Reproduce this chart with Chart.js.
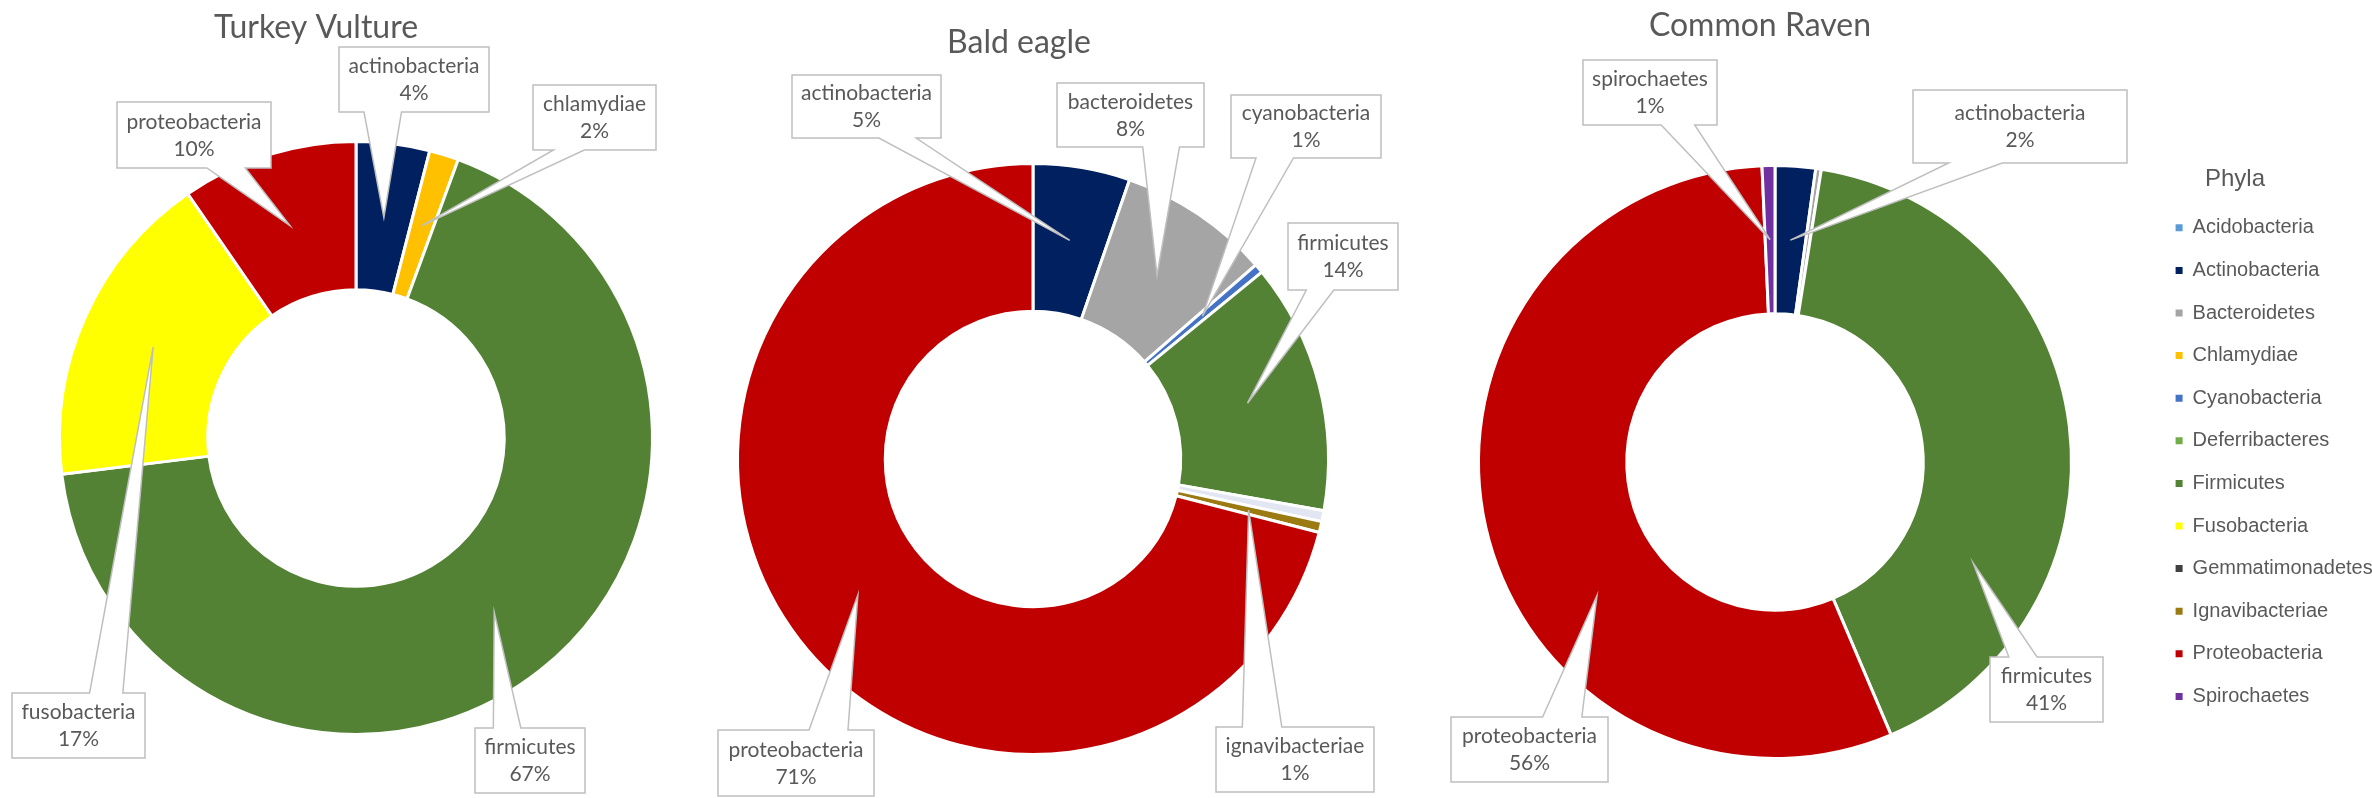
<!DOCTYPE html>
<html>
<head>
<meta charset="utf-8">
<script src="https://cdn.jsdelivr.net/npm/chart.js@4.4.1/dist/chart.umd.min.js"></script>
<style>
html,body{margin:0;padding:0;background:#ffffff;overflow:hidden;}
#wrap{position:relative;width:2372px;height:798px;overflow:hidden;background:#fff;}
#wrap canvas{position:absolute;}
</style>
</head>
<body>
<div id="wrap">
  <canvas id="c1" width="2372" height="798" style="left:0;top:0"></canvas>
  <canvas id="c2" width="2372" height="798" style="left:0;top:0"></canvas>
  <canvas id="c3" width="2372" height="798" style="left:0;top:0"></canvas>
  <canvas id="leg" width="480" height="640" style="left:2153px;top:149px"></canvas>
</div>
<script>
// ---------------- data ----------------
const phyla = ['Acidobacteria','Actinobacteria','Bacteroidetes','Chlamydiae','Cyanobacteria','Deferribacteres',
               'Firmicutes','Fusobacteria','Gemmatimonadetes','Ignavibacteriae','Proteobacteria','Spirochaetes'];
const phylaColors = ['#5B9BD5','#002060','#A5A5A5','#FFC000','#4472C4','#70AD47',
                     '#548235','#FFFF00','#404040','#9C7A12','#C00000','#7030A0'];
const legendTitle = 'Phyla';

const vultureTitle = 'Turkey Vulture';
const vultureLabels = ['Actinobacteria','Chlamydiae','Firmicutes','Fusobacteria','Proteobacteria'];
const vultureValues = [4.0, 1.6, 67.45, 17.35, 9.6];

const eagleTitle = 'Bald eagle';
const eagleLabels = ['Actinobacteria','Bacteroidetes','Cyanobacteria','Firmicutes','Acidobacteria','Ignavibacteriae','Proteobacteria'];
const eagleValues = [5.3, 8.3, 0.5, 13.7, 0.6, 0.6, 71.0];

const ravenTitle = 'Common Raven';
const ravenLabels = ['Actinobacteria','Bacteroidetes','Firmicutes','Proteobacteria','Spirochaetes'];
const ravenValues = [2.2, 0.3, 41.1, 55.7, 0.7];

// ---------------- layout / style ----------------
const W = 2372, H = 798;
const TEXT = '#595959';
const geom = {
  vulture: {cx: 356, cy: 438, R: 295, titleCx: 316, titleMid: 28},
  eagle:   {cx: 1033, cy: 459, R: 294, titleCx: 1019, titleMid: 43},
  raven:   {cx: 1775, cy: 462, R: 295, titleCx: 1760, titleMid: 26}
};
// slice colour overrides (pale sliver in the eagle chart)
const colorOverride = { eagle: { Acidobacteria: '#E2E5F2' } };
// callout boxes (annotation placement), tip = fraction along the slice angle
const calloutBoxes = {
  vulture: {
    Actinobacteria: {x: 339, y: 47,  w: 150, h: 65},
    Chlamydiae:     {x: 533, y: 85,  w: 123, h: 65},
    Firmicutes:     {x: 475, y: 728, w: 110, h: 65},
    Fusobacteria:   {x: 12,  y: 693, w: 133, h: 65},
    Proteobacteria: {x: 117, y: 102, w: 154, h: 66}
  },
  eagle: {
    Actinobacteria:  {x: 792,  y: 75,  w: 149, h: 63},
    Bacteroidetes:   {x: 1057, y: 83,  w: 147, h: 64},
    Cyanobacteria:   {x: 1231, y: 95,  w: 150, h: 63},
    Firmicutes:      {x: 1288, y: 223, w: 110, h: 67},
    Ignavibacteriae: {x: 1216, y: 727, w: 158, h: 65},
    Proteobacteria:  {x: 718,  y: 730, w: 156, h: 66}
  },
  raven: {
    Actinobacteria: {x: 1913, y: 90,  w: 214, h: 73},
    Firmicutes:     {x: 1990, y: 657, w: 113, h: 65, tip: 0.73},
    Proteobacteria: {x: 1451, y: 717, w: 157, h: 65, tip: 0.38},
    Spirochaetes:   {x: 1583, y: 60,  w: 134, h: 65}
  }
};
const TITLE_FONT = {family: 'Lato', size: 32, weight: 'normal', lineHeight: 1.2};
const LABEL_FONT = '21px Lato';
const LEGEND_FONT = {family: 'Liberation Sans', size: 20};
const LEGEND_PAD = 22.6;
const LEGEND_HEAD = {font: '24px "Liberation Sans"', dx: 82, y: 30};

function colorOf(name, key) {
  const o = colorOverride[key];
  if (o && o[name]) return o[name];
  return phylaColors[phyla.indexOf(name)];
}

function drawCallout(ctx, b, tx, ty) {
  const {x, y, w, h} = b;
  const cx = x + w / 2, cy = y + h / 2;
  const dxPos = tx - cx, dyPos = ty - cy;
  const dq = dxPos * h / w;
  const vertical = Math.abs(dyPos) > Math.abs(dq);
  const xa = x + w * (dxPos > 0 ? 7 : 2) / 12, xb = x + w * (dxPos > 0 ? 10 : 5) / 12;
  const ya = y + h * (dyPos > 0 ? 7 : 2) / 12, yb = y + h * (dyPos > 0 ? 10 : 5) / 12;
  ctx.beginPath();
  ctx.moveTo(x, y);
  if (vertical && dyPos < 0) { ctx.lineTo(xa, y); ctx.lineTo(tx, ty); ctx.lineTo(xb, y); }
  ctx.lineTo(x + w, y);
  if (!vertical && dxPos > 0) { ctx.lineTo(x + w, ya); ctx.lineTo(tx, ty); ctx.lineTo(x + w, yb); }
  ctx.lineTo(x + w, y + h);
  if (vertical && dyPos > 0) { ctx.lineTo(xb, y + h); ctx.lineTo(tx, ty); ctx.lineTo(xa, y + h); }
  ctx.lineTo(x, y + h);
  if (!vertical && dxPos < 0) { ctx.lineTo(x, yb); ctx.lineTo(tx, ty); ctx.lineTo(x, ya); }
  ctx.closePath();
  ctx.fillStyle = '#ffffff';
  ctx.fill();
  ctx.lineWidth = 1.5;
  ctx.strokeStyle = '#BFBFBF';
  ctx.lineJoin = 'miter';
  ctx.stroke();
}

const calloutPlugin = {
  id: 'callouts',
  afterDatasetsDraw(chart, args, opts) {
    const boxes = opts.boxes || {};
    const ctx = chart.ctx;
    const meta = chart.getDatasetMeta(0);
    const labels = chart.data.labels;
    const values = chart.data.datasets[0].data;
    const total = values.reduce((a, b) => a + b, 0);
    ctx.save();
    labels.forEach((lab, i) => {
      const b = boxes[lab];
      if (!b) return;
      const arc = meta.data[i];
      const p = arc.getProps(['x', 'y', 'startAngle', 'endAngle', 'innerRadius', 'outerRadius'], true);
      const f = (b.tip !== undefined) ? b.tip : 0.5;
      const a = p.startAngle + (p.endAngle - p.startAngle) * f;
      const r = (p.innerRadius + p.outerRadius) / 2;
      const tx = p.x + Math.cos(a) * r, ty = p.y + Math.sin(a) * r;
      drawCallout(ctx, b, tx, ty);
      const pct = Math.round(values[i] / total * 100);
      ctx.fillStyle = TEXT;
      ctx.font = LABEL_FONT;
      ctx.textAlign = 'center';
      ctx.textBaseline = 'middle';
      const mx = b.x + b.w / 2, my = b.y + b.h / 2;
      ctx.fillText(lab.toLowerCase(), mx, my - 13);
      ctx.fillText(pct + '%', mx, my + 14);
    });
    ctx.restore();
  }
};

// heading drawn above the library legend
const legendHeadingPlugin = {
  id: 'legendHeading',
  afterDraw(chart, args, opts) {
    const lg = chart.legend;
    const ctx = chart.ctx;
    ctx.save();
    ctx.font = LEGEND_HEAD.font;
    ctx.fillStyle = TEXT;
    ctx.textAlign = 'center';
    ctx.textBaseline = 'middle';
    ctx.fillText(opts.text, lg.left + LEGEND_HEAD.dx, LEGEND_HEAD.y);
    ctx.restore();
  }
};

function makeDonut(id, key, title, labels, values) {
  const g = geom[key];
  const mctx = document.createElement('canvas').getContext('2d');
  mctx.font = TITLE_FONT.size + 'px ' + TITLE_FONT.family;
  const tw = mctx.measureText(title).width;
  const L = g.titleCx - tw / 2;
  const padRight = W - (2 * g.cx - L);
  const lineH = TITLE_FONT.size * TITLE_FONT.lineHeight;
  const pt = g.titleMid - lineH / 2;
  const chartTop = 2 * g.cy - H;
  const pb = chartTop - pt - lineH;
  return new Chart(document.getElementById(id), {
    type: 'doughnut',
    data: {
      labels: labels,
      datasets: [{
        data: values,
        backgroundColor: labels.map(n => colorOf(n, key)),
        borderColor: '#ffffff',
        borderWidth: 3,
        hoverOffset: 0,
        clip: false
      }]
    },
    options: {
      responsive: false,
      animation: false,
      events: [],
      radius: g.R + 1.5,
      cutout: '50%',
      layout: {padding: {left: L, right: padRight, top: 0, bottom: 0}},
      plugins: {
        legend: {display: false},
        tooltip: {enabled: false},
        title: {
          display: true, text: title, align: 'start', color: TEXT,
          font: TITLE_FONT, padding: {top: pt, bottom: pb}
        },
        callouts: {boxes: calloutBoxes[key]}
      }
    },
    plugins: [calloutPlugin]
  });
}

function makeLegend() {
  return new Chart(document.getElementById('leg'), {
    type: 'bar',
    data: {
      labels: [],
      datasets: phyla.map((p, i) => ({label: p, data: [], backgroundColor: phylaColors[i], borderWidth: 0}))
    },
    options: {
      responsive: false,
      animation: false,
      events: [],
      scales: {x: {display: false}, y: {display: false}},
      layout: {padding: {top: 46.2, left: 0, right: 0, bottom: 0}},
      plugins: {
        tooltip: {enabled: false},
        legendHeading: {text: legendTitle},
        legend: {
          display: true, position: 'left', align: 'start',
          labels: {boxWidth: 7, boxHeight: 7, padding: LEGEND_PAD, color: TEXT, font: LEGEND_FONT}
        }
      }
    },
    plugins: [legendHeadingPlugin]
  });
}

Chart.defaults.font.family = 'Lato';
Promise.all([
  document.fonts.load('32px Lato'), document.fonts.load('21px Lato'),
  document.fonts.load('20px "Liberation Sans"')
]).catch(() => {}).then(() => {
  makeDonut('c1', 'vulture', vultureTitle, vultureLabels, vultureValues);
  makeDonut('c2', 'eagle', eagleTitle, eagleLabels, eagleValues);
  makeDonut('c3', 'raven', ravenTitle, ravenLabels, ravenValues);
  makeLegend();
});
</script>
</body>
</html>
